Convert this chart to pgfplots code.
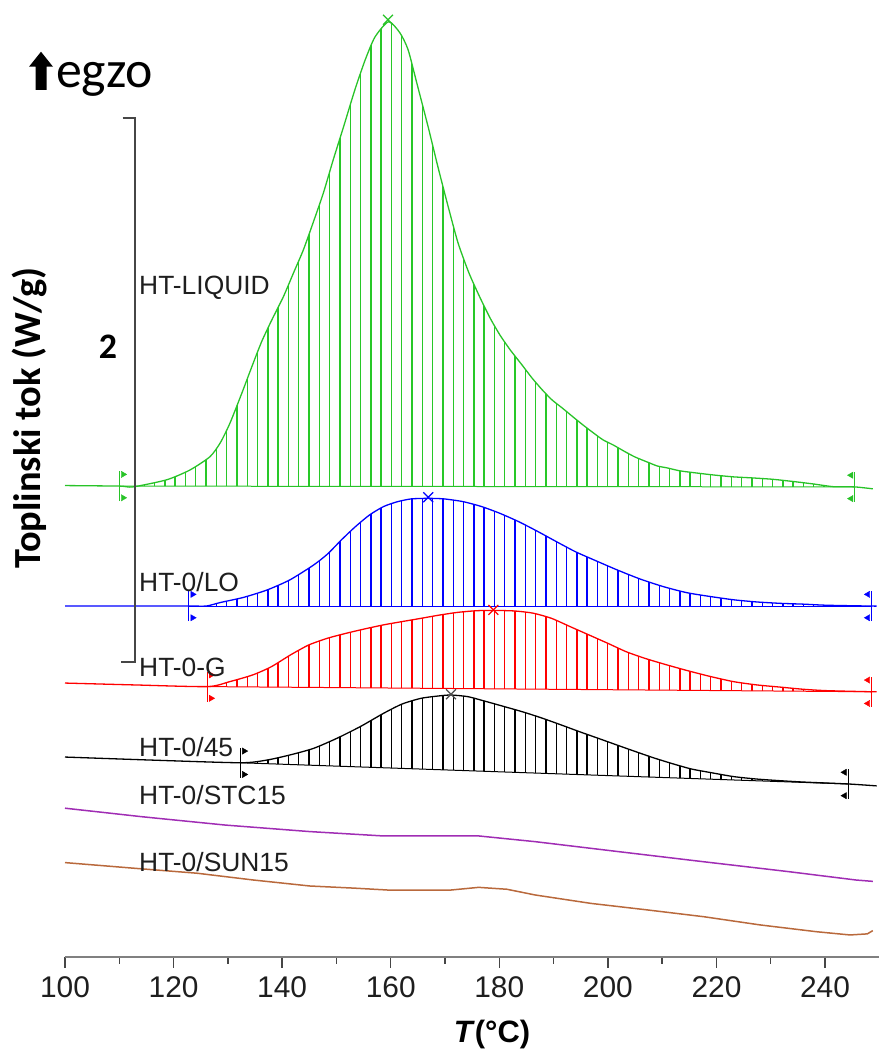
\documentclass[border=0pt]{standalone}
\usepackage{fontspec}
\setmainfont{Liberation Sans}
\newfontfamily\carlito{Carlito}
\usepackage{pgfplots}
\pgfplotsset{compat=1.18}
\usepgfplotslibrary{fillbetween}
\usetikzlibrary{patterns.meta}
\definecolor{cgreen}{RGB}{40,195,40}
\definecolor{chg}{RGB}{40,200,40}
\definecolor{cblue}{RGB}{0,0,255}
\definecolor{cred}{RGB}{255,0,0}
\definecolor{cpurple}{RGB}{160,45,180}
\definecolor{cbrown}{RGB}{185,105,60}
\definecolor{cgray}{RGB}{70,70,70}
\definecolor{ctext}{RGB}{30,30,30}
\begin{document}
\begin{tikzpicture}[x=1bp,y=1bp]
\begin{axis}[at={(65bp,100bp)}, anchor=south west, scale only axis,
  width=814.3bp, height=957bp,
  xmin=100, xmax=250, ymin=0, ymax=3.518,
  axis x line=bottom, axis y line=none,
  x axis line style={-, line width=2.5bp, color=gray},
  xtick={100,120,...,240}, minor xtick={110,130,...,230},
  tick align=outside, major tick length=11bp, minor tick length=7bp,
  every tick/.style={line width=1.5bp, cgray},
  /pgf/number format/assume math mode=true,
  /pgf/number format/1000 sep={},
  xticklabel style={font=\fontsize{30}{30}\selectfont, text=ctext, yshift=-5bp},
  clip=false]

% ---- HT-LIQUID (green)
\addplot[cgreen, line width=1.3bp, smooth, tension=0.4, name path=G] table {
100 1.733
110 1.731
112.5 1.728
118.7 1.754
123.0 1.790
126.7 1.839
128.6 1.890
130.4 1.963
132.6 2.074
134.4 2.169
136.2 2.261
138.1 2.342
140.2 2.426
142.1 2.515
143.9 2.599
145.7 2.699
147.6 2.809
149.4 2.930
151.3 3.051
153.4 3.188
155.3 3.298
157.1 3.382
159.6 3.438
161.7 3.397
163.2 3.335
164.8 3.213
166.9 3.051
168.7 2.904
170.6 2.757
172.4 2.625
174.4 2.515
176.4 2.426
178.3 2.349
180.1 2.287
182.0 2.232
184.2 2.176
186.0 2.129
187.9 2.085
189.7 2.048
191.6 2.018
193.6 1.985
195.4 1.956
197.3 1.927
199.1 1.901
201.0 1.882
203.2 1.857
205.0 1.838
207.2 1.820
209.1 1.805
210.9 1.798
213.3 1.787
216.4 1.779
219.4 1.772
223.1 1.765
226.7 1.761
230.4 1.756
234.1 1.748
237.8 1.739
241.5 1.729
245.5 1.728
248.8 1.721
};
\addplot[cgreen, line width=1bp, name path=Gb] table {
110 1.731
245.5 1.728
};
\addplot[draw=none, pattern={Lines[angle=90,distance=10.3bp,line width=1.4bp]}, pattern color=chg]
  fill between[of=G and Gb, soft clip={domain=110:245.5}];

% ---- HT-0/LO (blue)
\addplot[cblue, line width=1.3bp, smooth, tension=0.4, name path=B] table {
100 1.290
122.8 1.290
126.0 1.290
128.6 1.303
132.9 1.322
137.2 1.349
141.4 1.386
145.8 1.441
148.4 1.482
150.9 1.533
153.5 1.582
156.1 1.625
158.7 1.656
161.3 1.674
163.8 1.684
166.9 1.686
169.8 1.684
173.3 1.674
176.7 1.656
180.1 1.631
183.6 1.600
187.1 1.564
190.5 1.527
194.0 1.490
197.4 1.460
201.7 1.423
206.0 1.389
210.3 1.361
214.6 1.339
218.9 1.325
223.2 1.313
227.5 1.305
231.8 1.300
236.1 1.297
240.4 1.293
248.6 1.290
249.5 1.290
};
\addplot[cblue, line width=1bp, name path=Bb] table {
122.8 1.290
248.6 1.290
};
\addplot[draw=none, pattern={Lines[angle=90,distance=10.3bp,line width=1.4bp]}, pattern color=cblue]
  fill between[of=B and Bb, soft clip={domain=122.8:248.6}];

% ---- HT-0-G (red)
\addplot[cred, line width=1.3bp, smooth, tension=0.4, name path=R] table {
100 1.007
113 1.000
126.2 0.994
130.3 1.012
134.6 1.037
138.0 1.067
141.5 1.110
144.9 1.147
148.4 1.172
151.8 1.190
155.2 1.206
158.7 1.221
162.1 1.233
165.6 1.245
169.0 1.257
172.4 1.267
175.9 1.273
178.9 1.274
182.8 1.272
186.2 1.264
189.6 1.245
193.1 1.214
196.5 1.184
200.0 1.153
203.4 1.122
206.8 1.098
210.3 1.077
214.6 1.053
218.9 1.031
223.2 1.012
227.5 1.000
231.8 0.992
236.1 0.984
240.4 0.979
248.6 0.975
249.5 0.975
};
\addplot[cred, line width=1bp, name path=Rb] table {
126.2 0.994
248.6 0.975
};
\addplot[draw=none, pattern={Lines[angle=90,distance=10.3bp,line width=1.4bp]}, pattern color=cred]
  fill between[of=R and Rb, soft clip={domain=126.2:248.6}];

% ---- HT-0/45 (black)
\addplot[black, line width=1.3bp, smooth, tension=0.4, name path=K] table {
100 0.735
115.7 0.724
132.3 0.714
137.2 0.724
141.5 0.743
145.8 0.767
150.1 0.804
154.4 0.847
158.7 0.896
162.1 0.930
165.6 0.951
169.0 0.960
171.1 0.963
174.2 0.957
177.6 0.939
181.0 0.920
184.5 0.900
187.9 0.878
191.4 0.853
194.8 0.828
198.2 0.804
201.7 0.779
205.1 0.755
208.6 0.731
212.0 0.710
215.4 0.691
218.9 0.678
223.2 0.663
227.5 0.654
231.8 0.648
236.1 0.643
244.3 0.636
249.5 0.629
};
\addplot[black, line width=1bp, name path=Kb] table {
132.3 0.714
244.3 0.636
};
\addplot[draw=none, pattern={Lines[angle=90,distance=10.3bp,line width=1.4bp]}, pattern color=black]
  fill between[of=K and Kb, soft clip={domain=132.3:244.3}];

% ---- HT-0/STC15 (purple)
\addplot[cpurple, line width=1.5bp] table {
100 0.547
114.0 0.516
129.5 0.485
145.1 0.461
158.6 0.445
176.2 0.445
186.6 0.424
202.1 0.387
217.7 0.350
233.2 0.314
245.7 0.283
248.8 0.278
};
% ---- HT-0/SUN15 (brown)
\addplot[cbrown, line width=1.5bp] table {
100 0.347
112.9 0.326
124.3 0.308
134.7 0.283
145.1 0.261
153.4 0.253
159.6 0.246
171.0 0.246
176.2 0.256
181.4 0.249
186.6 0.228
196.9 0.197
207.3 0.173
217.7 0.148
228.0 0.118
238.4 0.093
244.6 0.081
247.8 0.085
248.8 0.097
};

% ---- peak marks
\addplot[only marks, mark=x, mark size=7bp, cgreen, mark options={line width=1.2bp}] coordinates {(159.5,3.445)};
\addplot[only marks, mark=x, mark size=7bp, cblue, mark options={line width=1.2bp}] coordinates {(166.9,1.690)};
\addplot[only marks, mark=x, mark size=7bp, cred, mark options={line width=1.2bp}] coordinates {(178.9,1.276)};
\addplot[only marks, mark=x, mark size=7bp, black!70, mark options={line width=1.2bp}] coordinates {(171.1,0.966)};

% ---- integration limit flags
\addplot[cgreen, line width=1.2bp] coordinates {(110,1.676) (110,1.786)};
\addplot[cgreen, line width=1.2bp] coordinates {(245.5,1.673) (245.5,1.783)};
\addplot[only marks, mark=triangle*, mark size=3.6bp, cgreen, mark options={rotate=-90}] coordinates {(110.7,1.774) (110.7,1.688)};
\addplot[only marks, mark=triangle*, mark size=3.6bp, cgreen, mark options={rotate=90}] coordinates {(244.8,1.771) (244.8,1.685)};
\addplot[cblue, line width=1.2bp] coordinates {(122.8,1.235) (122.8,1.345)};
\addplot[cblue, line width=1.2bp] coordinates {(248.6,1.235) (248.6,1.345)};
\addplot[only marks, mark=triangle*, mark size=3.6bp, cblue, mark options={rotate=-90}] coordinates {(123.5,1.333) (123.5,1.247)};
\addplot[only marks, mark=triangle*, mark size=3.6bp, cblue, mark options={rotate=90}] coordinates {(247.9,1.333) (247.9,1.247)};
\addplot[cred, line width=1.2bp] coordinates {(126.2,0.939) (126.2,1.049)};
\addplot[cred, line width=1.2bp] coordinates {(248.6,0.920) (248.6,1.030)};
\addplot[only marks, mark=triangle*, mark size=3.6bp, cred, mark options={rotate=-90}] coordinates {(126.9,1.037) (126.9,0.951)};
\addplot[only marks, mark=triangle*, mark size=3.6bp, cred, mark options={rotate=90}] coordinates {(247.9,1.018) (247.9,0.932)};
\addplot[black, line width=1.2bp] coordinates {(132.3,0.659) (132.3,0.769)};
\addplot[black, line width=1.2bp] coordinates {(244.3,0.581) (244.3,0.691)};
\addplot[only marks, mark=triangle*, mark size=3.6bp, black, mark options={rotate=-90}] coordinates {(133.0,0.757) (133.0,0.671)};
\addplot[only marks, mark=triangle*, mark size=3.6bp, black, mark options={rotate=90}] coordinates {(243.6,0.679) (243.6,0.593)};

% ---- 2 W/g scale bar
\addplot[cgray, line width=2bp] coordinates {(110.6,3.085) (112.9,3.085) (112.9,1.085) (110.3,1.085)};
\end{axis}

% ---- texts
\begin{scope}[every node/.style={inner sep=0pt, text=ctext, font=\fontsize{26.5}{26.5}\selectfont, anchor=base west}]
\node at (139,762) {HT-LIQUID};
\node at (139,465) {HT-0/LO};
\node at (139,380) {HT-0-G};
\node at (139,300.3) {HT-0/45};
\node at (139,252) {HT-0/STC15};
\node at (139,185) {HT-0/SUN15};
\end{scope}
\node[inner sep=0pt, anchor=base west, font=\carlito\fontsize{52}{52}\selectfont] at (56,969) {egzo};
\fill[black] (35.5,967) -- (46.5,967) -- (46.5,990.3) -- (53,990.3) -- (41,1005.3) -- (29,990.3) -- (35.5,990.3) -- cycle;
\node[inner sep=0pt, font=\carlito\bfseries\fontsize{36}{36}\selectfont] at (108,710) {2};
\node[inner sep=0pt, rotate=90, font=\carlito\bfseries\fontsize{38.5}{38.5}\selectfont] at (30,639) {Toplinski tok (W/g)};
\node[inner sep=0pt, font=\bfseries\fontsize{31}{31}\selectfont] at (492,22) {\textit{T}(°C)};

\pgfresetboundingbox
\path[use as bounding box] (0,0) rectangle (883,1057);
\end{tikzpicture}
\end{document}
